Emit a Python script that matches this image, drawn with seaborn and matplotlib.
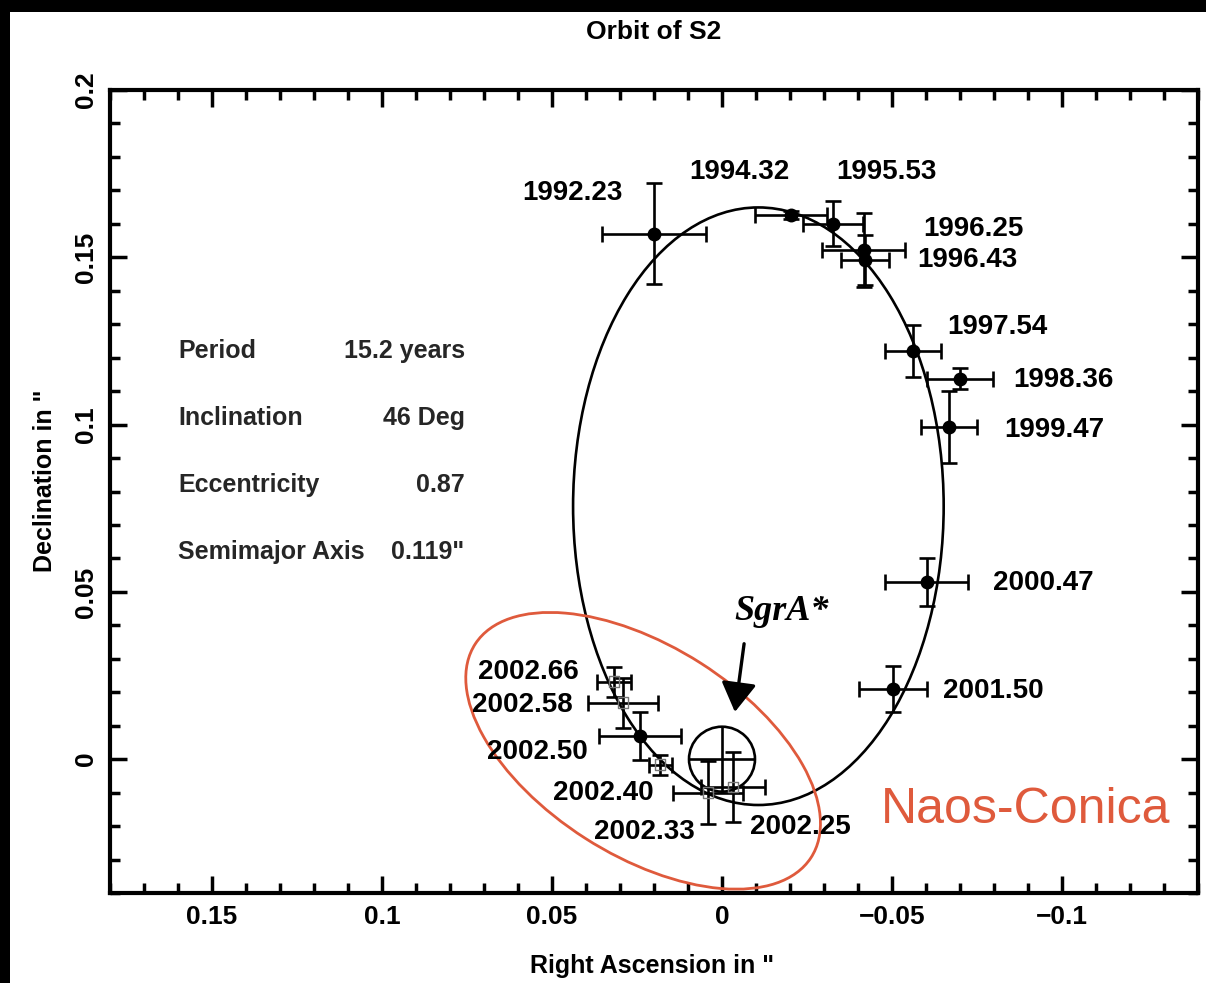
import numpy as np
import pandas as pd
import matplotlib
matplotlib.use("Agg")
import matplotlib.pyplot as plt
from matplotlib.patches import Ellipse, Rectangle
from matplotlib.ticker import MultipleLocator, FuncFormatter
import seaborn as sns

# ---------------- data ----------------
epochs = ["1992.23", "1994.32", "1995.53", "1996.25", "1996.43", "1997.54",
          "1998.36", "1999.47", "2000.47", "2001.50", "2002.25", "2002.33",
          "2002.40", "2002.50", "2002.58", "2002.66"]
ra = [0.0201, -0.0203, -0.0326, -0.0417, -0.0420, -0.0561, -0.0700, -0.0668,
      -0.0602, -0.0502, -0.0032, 0.0041, 0.0182, 0.0241, 0.0291, 0.0318]
dec = [0.1570, 0.1627, 0.1600, 0.1522, 0.1492, 0.1221, 0.1137, 0.0992,
       0.0529, 0.0209, -0.0083, -0.0100, -0.0017, 0.0069, 0.0169, 0.0231]
ra_err = [0.0153, 0.0107, 0.0088, 0.0122, 0.0071, 0.0082, 0.0098, 0.0082,
          0.0122, 0.0100, 0.0094, 0.0103, 0.0034, 0.0120, 0.0103, 0.0051]
dec_err = [0.0151, 0.0012, 0.0067, 0.0110, 0.0075, 0.0078, 0.0031, 0.0108,
           0.0072, 0.0068, 0.0105, 0.0095, 0.0030, 0.0071, 0.0075, 0.0045]
instrument = ["SHARP"] * 10 + ["NACO", "NACO", "NACO", "NACO", "NACO", "NACO"]

# orbit fit (projected ellipse): centre RA, centre Dec, width, height
orbit_center = (-0.0107, 0.0756)
orbit_size = (0.109, 0.1786)
# Sgr A* position and its uncertainty circle
sgra_pos = (0.0, 0.0)
sgra_radius = 0.0097

param_names = ["Period", "Inclination", "Eccentricity", "Semimajor Axis"]
param_values = ["15.2 years", "46 Deg", "0.87", '0.119"']

# ---------------- styles / positions ----------------
label_offsets = [(-81, 41), (-52, 43), (54, 52), (110, 21), (103, 0), (85, 24),
                 (103, -1), (105, -3), (117, -1), (101, -2), (67, -40), (-64, -39),
                 (-57, -28), (-103, -16), (-101, -2), (-86, 10)]
filled = [True] * 10 + [False, False, False, True, False, False]

df = pd.DataFrame({"epoch": epochs, "ra": ra, "dec": dec,
                   "ra_err": ra_err, "dec_err": dec_err,
                   "instrument": instrument, "filled": filled})

sns.set_theme(style="ticks")
plt.rcParams["font.family"] = ["Liberation Sans", "DejaVu Sans"]
plt.rcParams["axes.unicode_minus"] = True

fig = plt.figure(figsize=(12.06, 9.83), dpi=100)
fig.patch.set_facecolor("white")
ax = fig.add_axes([110 / 1206, 1 - 893 / 983, 1088 / 1206, 803 / 983])
ax.set_facecolor("white")

# black frame strips of the screenshot
fig.patches.append(Rectangle((0, 1 - 12 / 983), 1, 12 / 983, transform=fig.transFigure,
                             facecolor="black", edgecolor="none", zorder=10))
fig.patches.append(Rectangle((0, 0), 10 / 1206, 1, transform=fig.transFigure,
                             facecolor="black", edgecolor="none", zorder=10))

# orbit
ax.add_patch(Ellipse(orbit_center, orbit_size[0], orbit_size[1], fill=False,
                     edgecolor="black", linewidth=1.9, zorder=2))

# error bars
ax.errorbar(df["ra"], df["dec"], xerr=df["ra_err"], yerr=df["dec_err"], fmt="none",
            ecolor="black", elinewidth=1.9, capsize=5.5, capthick=1.9, zorder=3)

# markers
sns.scatterplot(data=df[df["filled"]], x="ra", y="dec", ax=ax, color="black",
                marker="o", s=100, edgecolor="black", linewidth=0, zorder=4, legend=False)
sns.scatterplot(data=df[~df["filled"]], x="ra", y="dec", ax=ax, facecolor="none",
                marker="s", s=60, edgecolor="#777777", linewidth=1.0, zorder=4, legend=False)

# labels of epochs
for ep, x, y, off in zip(df["epoch"], df["ra"], df["dec"], label_offsets):
    ax.annotate(ep, (x, y), xytext=off, textcoords="offset pixels",
                ha="center", va="center", fontsize=20, fontweight="bold", color="black",
                zorder=5)

# Sgr A*
ax.add_patch(Ellipse(sgra_pos, 2 * sgra_radius, 2 * sgra_radius, fill=False,
                     edgecolor="black", linewidth=1.9, zorder=3))
ax.errorbar([sgra_pos[0]], [sgra_pos[1]], xerr=sgra_radius, yerr=sgra_radius, fmt="none",
            ecolor="black", elinewidth=1.9, capsize=0, zorder=3)
ax.annotate("", xy=(-0.0038, 0.0141), xytext=(-0.0065, 0.0345),
            arrowprops=dict(arrowstyle="-|>,head_length=0.5,head_width=0.3", color="black",
                            lw=2.4, mutation_scale=36, shrinkA=0, shrinkB=0), zorder=5)
ax.text(-0.0176, 0.0440, "SgrA*", family=["Liberation Serif", "DejaVu Serif"],
        style="italic", fontweight="bold", fontsize=26, ha="center", va="center",
        color="black")

# Naos-Conica highlight
ax.add_patch(Ellipse((0.0232, 0.0025), 0.1176, 0.0624, angle=33, fill=False,
                     edgecolor="#DF5A3C", linewidth=2.0, zorder=2))
ax.text(0.842, 0.1034, "Naos-Conica", transform=ax.transAxes, fontsize=36,
        color="#DF5A3C", ha="center", va="center")

# parameter block
ys = [0.675, 0.5915, 0.508, 0.4246]
for name, val, yy in zip(param_names, param_values, ys):
    ax.text(0.0625, yy, name, transform=ax.transAxes, fontsize=18, fontweight="bold",
            ha="left", va="center")
    ax.text(0.326, yy, val, transform=ax.transAxes, fontsize=18, fontweight="bold",
            ha="right", va="center")

# axes
ax.set_xlim(0.18, -0.14)
ax.set_ylim(-0.04, 0.2)
ax.xaxis.set_major_locator(MultipleLocator(0.05))
ax.xaxis.set_minor_locator(MultipleLocator(0.01))
ax.yaxis.set_major_locator(MultipleLocator(0.05))
ax.yaxis.set_minor_locator(MultipleLocator(0.01))


def fmt(v, p):
    if abs(v) < 1e-9:
        return "0"
    return ("%g" % round(v, 4)).replace("-", "\u2212")


ax.xaxis.set_major_formatter(FuncFormatter(fmt))
ax.yaxis.set_major_formatter(FuncFormatter(fmt))
ax.tick_params(which="both", direction="in", top=True, right=True, color="black",
               width=2.5, labelsize=19, labelcolor="black")
ax.tick_params(which="major", length=12, pad=9)
ax.tick_params(which="minor", length=7)
for lab in ax.get_yticklabels():
    lab.set_rotation(90)
    lab.set_va("center")
for lab in ax.get_xticklabels() + ax.get_yticklabels():
    lab.set_fontweight("bold")
for sp in ax.spines.values():
    sp.set_linewidth(3)
    sp.set_color("black")

ax.set_xlabel('Right Ascension in "', fontsize=18, fontweight="bold", color="black")
ax.set_ylabel('Declination in "', fontsize=18, fontweight="bold", color="black")
ax.xaxis.set_label_coords((652 - 110) / 1088, (893 - 966) / 803)
ax.xaxis.label.set_va("center")
ax.yaxis.set_label_coords((45 - 110) / 1088, (893 - 481) / 803)
ax.yaxis.label.set_va("center")

fig.text(654 / 1206, 1 - 32 / 983, "Orbit of S2", fontsize=19, fontweight="bold",
         ha="center", va="center", color="black")

fig.savefig("out.png", dpi=100, facecolor="white")
